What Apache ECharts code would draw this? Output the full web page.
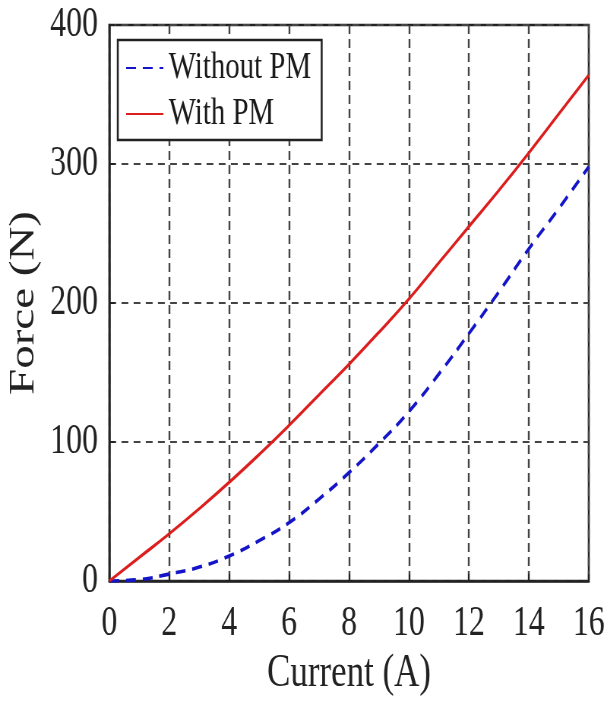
<!DOCTYPE html>
<html><head><meta charset="utf-8">
<script src="https://cdn.jsdelivr.net/npm/echarts@6/dist/echarts.min.js"></script>
<style>
html,body{margin:0;padding:0;background:#fff}
#c{width:607px;height:702px;overflow:hidden}
</style>
</head><body><div id="c"></div>
<script>
const current = [0, 1, 2, 3, 4, 5, 6, 7, 8, 9, 10, 11, 12, 13, 14, 15, 16];
const withoutPM = [0, 1, 5, 10, 18, 29, 42, 59, 78, 99, 122, 149, 178, 208, 239, 268, 298];
const withPM = [0, 17, 34, 52, 71, 91, 112, 134, 156, 179, 203, 229, 255, 281, 308, 336, 364];
const seriesNames = ['Without PM', 'With PM'];
const font = 'Liberation Serif';
const dom = document.getElementById('c');
// drawn on a wider canvas, then shown at 607px wide (the reference is horizontally condensed)
const chart = echarts.init(dom, null, {width: 799, height: 702});
chart.setOption({
  animation: false,
  backgroundColor: '#fff',
  grid: {left: 141, right: 23, top: 25, bottom: 115, show: true, borderColor: '#222', borderWidth: 2.5, backgroundColor: 'transparent'},
  legend: {
    left: 155, top: 40, orient: 'vertical', itemWidth: 49, itemHeight: 2, itemGap: 8,
    padding: [9, 14, 7, 10],
    borderColor: '#222', borderWidth: 2.5, backgroundColor: '#fff',
    itemStyle: {opacity: 0},
    textStyle: {fontFamily: font, fontSize: 38, color: '#1a1a1a', padding: [0, 0, 0, 2]},
    data: seriesNames
  },
  xAxis: {
    type: 'value', min: 0, max: 16, interval: 2,
    name: 'Current (A)', nameLocation: 'middle', nameGap: 73,
    nameTextStyle: {fontFamily: font, fontSize: 46, lineHeight: 40, color: '#222'},
    axisLine: {show: true, lineStyle: {color: '#222', width: 2.5}},
    axisTick: {show: true, inside: true, length: 7, lineStyle: {color: '#222', width: 2}},
    axisLabel: {fontFamily: font, fontSize: 42, lineHeight: 40, color: '#222', margin: 23},
    splitLine: {show: true, lineStyle: {color: '#444', type: [9, 5], width: 2.4}}
  },
  yAxis: {
    type: 'value', min: 0, max: 400, interval: 100,
    name: 'Force (N)', nameLocation: 'middle', nameGap: 72,
    nameTextStyle: {fontFamily: font, fontSize: 47, color: '#222'},
    axisLine: {show: true, lineStyle: {color: '#222', width: 2.5}},
    axisTick: {show: true, inside: true, length: 7, lineStyle: {color: '#222', width: 2}},
    axisLabel: {fontFamily: font, fontSize: 42, lineHeight: 40, color: '#222', margin: 15},
    splitLine: {show: true, lineStyle: {color: '#444', type: [9, 7], width: 2.2}}
  },
  series: [
    {name: seriesNames[0], type: 'line', smooth: true, symbol: 'none',
     lineStyle: {color: '#1414c8', width: 3.6, type: [13, 9]}, itemStyle: {color: '#1414c8'},
     data: current.map((x, i) => [x, withoutPM[i]])},
    {name: seriesNames[1], type: 'line', smooth: true, symbol: 'none',
     lineStyle: {color: '#dc1e1e', width: 3.2}, itemStyle: {color: '#dc1e1e'},
     data: current.map((x, i) => [x, withPM[i]])}
  ]
});
const inner = dom.firstElementChild;
if (inner) { inner.style.width = '607px'; }
dom.querySelectorAll('canvas').forEach(cv => { cv.style.width = '607px'; cv.style.height = '702px'; });
</script></body></html>
